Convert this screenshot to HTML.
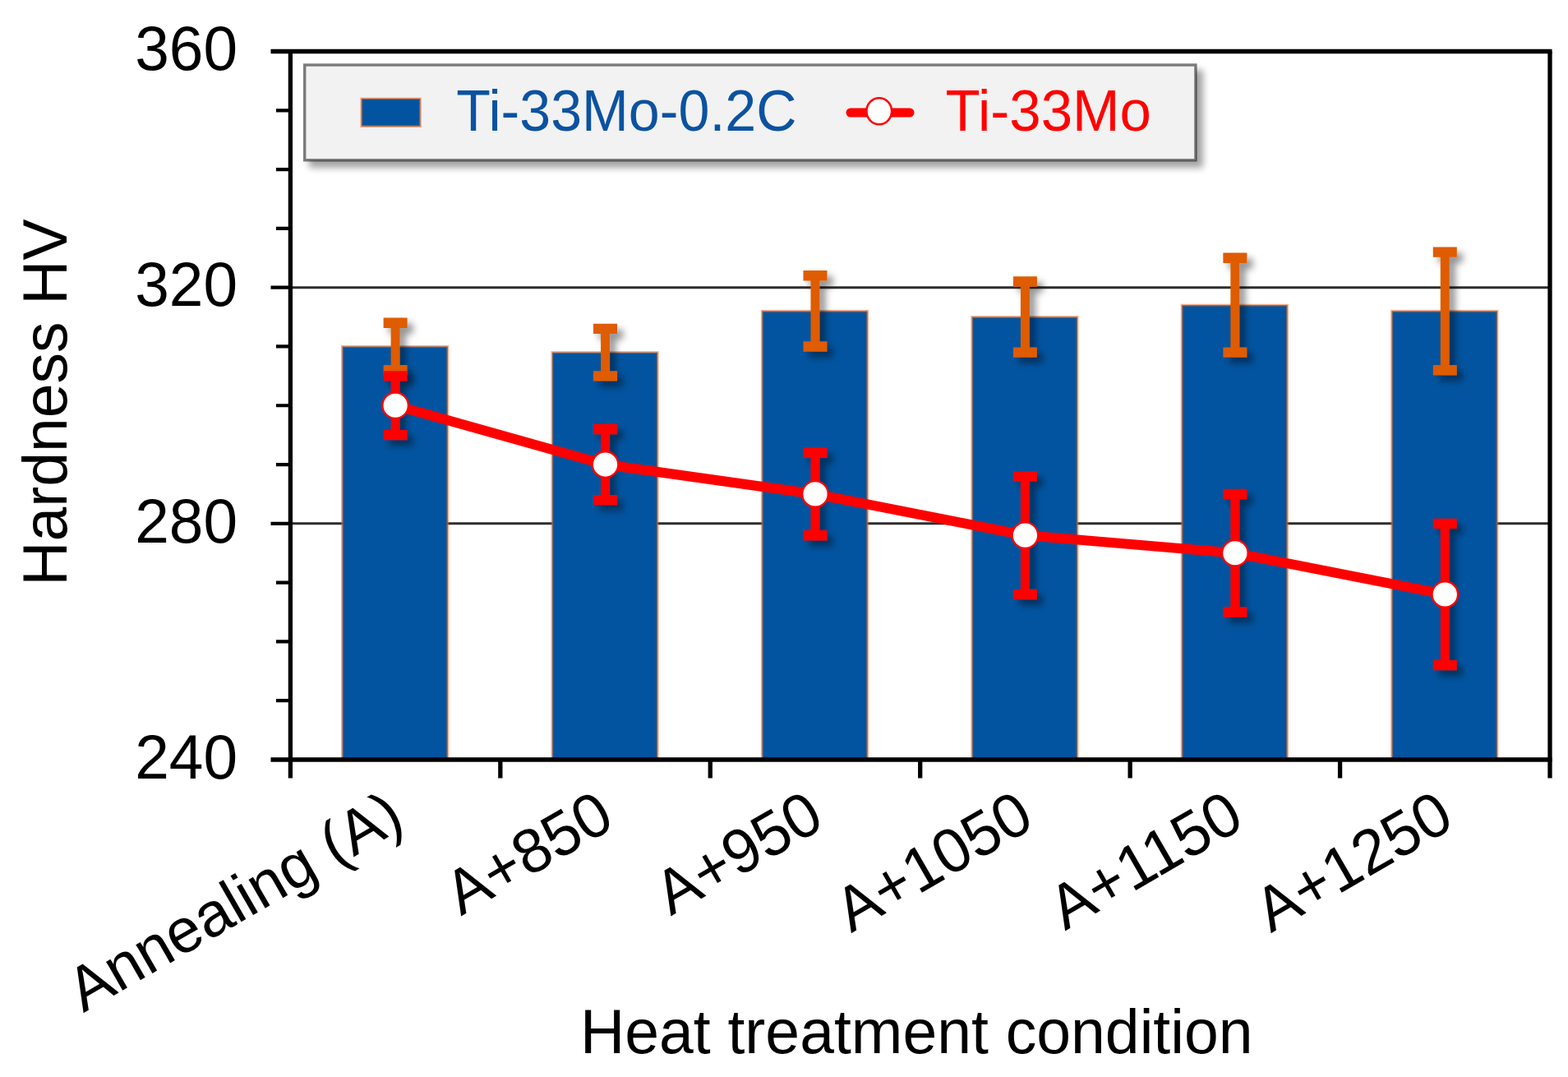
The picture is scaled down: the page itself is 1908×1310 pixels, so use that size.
<!DOCTYPE html><html><head><meta charset="utf-8"><title>Hardness HV chart</title><style>html,body{margin:0;padding:0;background:#fff;}svg{display:block;}text{font-family:"Liberation Sans",Arial,sans-serif;}</style></head><body>
<svg width="1908" height="1310" viewBox="0 0 1908 1310">
<defs><filter id="sh" x="-50%" y="-50%" width="200%" height="200%"><feDropShadow dx="7" dy="7" stdDeviation="4.5" flood-color="#000" flood-opacity="0.42"/></filter><filter id="blur45" x="-10%" y="-40%" width="120%" height="180%"><feGaussianBlur stdDeviation="4.5"/></filter></defs>
<rect width="1908" height="1310" fill="#fff"/>
<line x1="353.4" y1="349.67" x2="1886" y2="349.67" stroke="#2d2d2d" stroke-width="3"/>
<line x1="353.4" y1="636.83" x2="1886" y2="636.83" stroke="#2d2d2d" stroke-width="3"/>
<rect x="416.47" y="421.46" width="128.3" height="502.54" fill="#0254a0" stroke="#e8661e" stroke-opacity="0.5" stroke-width="3"/>
<rect x="671.9" y="428.64" width="128.3" height="495.36" fill="#0254a0" stroke="#e8661e" stroke-opacity="0.5" stroke-width="3"/>
<rect x="927.33" y="378.38" width="128.3" height="545.62" fill="#0254a0" stroke="#e8661e" stroke-opacity="0.5" stroke-width="3"/>
<rect x="1182.77" y="385.56" width="128.3" height="538.44" fill="#0254a0" stroke="#e8661e" stroke-opacity="0.5" stroke-width="3"/>
<rect x="1438.2" y="371.2" width="128.3" height="552.8" fill="#0254a0" stroke="#e8661e" stroke-opacity="0.5" stroke-width="3"/>
<rect x="1693.63" y="378.38" width="128.3" height="545.62" fill="#0254a0" stroke="#e8661e" stroke-opacity="0.5" stroke-width="3"/>
<g fill="none" stroke="#df5b00" stroke-width="11.0" filter="url(#sh)"><path d="M481.12 392.74V450.18"/><path stroke-width="12.4" d="M466.62 392.74H495.62M466.62 450.18H495.62"/><path d="M736.55 399.92V457.35"/><path stroke-width="12.4" d="M722.05 399.92H751.05M722.05 457.35H751.05"/><path d="M991.98 335.31V421.46"/><path stroke-width="12.4" d="M977.48 335.31H1006.48M977.48 421.46H1006.48"/><path d="M1247.42 342.49V428.64"/><path stroke-width="12.4" d="M1232.92 342.49H1261.92M1232.92 428.64H1261.92"/><path d="M1502.85 313.77V428.64"/><path stroke-width="12.4" d="M1488.35 313.77H1517.35M1488.35 428.64H1517.35"/><path d="M1758.28 306.59V450.18"/><path stroke-width="12.4" d="M1743.78 306.59H1772.78M1743.78 450.18H1772.78"/></g>
<g fill="none" stroke="#ff0000" stroke-width="11.0" filter="url(#sh)"><path d="M481.12 457.35V529.15"/><path stroke-width="12.4" d="M466.62 457.35H495.62M466.62 529.15H495.62"/><path d="M736.55 521.97V608.12"/><path stroke-width="12.4" d="M722.05 521.97H751.05M722.05 608.12H751.05"/><path d="M991.98 550.68V651.19"/><path stroke-width="12.4" d="M977.48 550.68H1006.48M977.48 651.19H1006.48"/><path d="M1247.42 579.4V722.98"/><path stroke-width="12.4" d="M1232.92 579.4H1261.92M1232.92 722.98H1261.92"/><path d="M1502.85 600.94V744.52"/><path stroke-width="12.4" d="M1488.35 600.94H1517.35M1488.35 744.52H1517.35"/><path d="M1758.28 636.83V809.13"/><path stroke-width="12.4" d="M1743.78 636.83H1772.78M1743.78 809.13H1772.78"/></g>
<polyline points="481.12,493.25 736.55,565.04 991.98,600.94 1247.42,651.19 1502.85,672.73 1758.28,722.98" fill="none" stroke="#ff0000" stroke-width="12" stroke-linejoin="round"/>
<circle cx="481.12" cy="493.25" r="15.8" fill="#fff" stroke="#ff0000" stroke-width="2.4"/>
<circle cx="736.55" cy="565.04" r="15.8" fill="#fff" stroke="#ff0000" stroke-width="2.4"/>
<circle cx="991.98" cy="600.94" r="15.8" fill="#fff" stroke="#ff0000" stroke-width="2.4"/>
<circle cx="1247.42" cy="651.19" r="15.8" fill="#fff" stroke="#ff0000" stroke-width="2.4"/>
<circle cx="1502.85" cy="672.73" r="15.8" fill="#fff" stroke="#ff0000" stroke-width="2.4"/>
<circle cx="1758.28" cy="722.98" r="15.8" fill="#fff" stroke="#ff0000" stroke-width="2.4"/>
<g stroke="#000" stroke-width="5.3" fill="none">
<path d="M353.4 60V946.5"/>
<path d="M329.5 924H1888.5"/>
<path d="M329.5 62.5H1888.5"/>
<path d="M1886 62.5V946.5"/>
<path d="M608.83 924V946.5"/>
<path d="M864.27 924V946.5"/>
<path d="M1119.7 924V946.5"/>
<path d="M1375.13 924V946.5"/>
<path d="M1630.57 924V946.5"/>
</g>
<path d="M329.5 349.67H353.4M329.5 636.83H353.4M336 134.29H353.4M336 206.08H353.4M336 277.88H353.4M336 421.46H353.4M336 493.25H353.4M336 565.04H353.4M336 708.62H353.4M336 780.42H353.4M336 852.21H353.4" stroke="#000" stroke-width="4.2" fill="none"/>
<text x="289" y="85.3" font-size="76" text-anchor="end" fill="#000" textLength="124.8" lengthAdjust="spacingAndGlyphs">360</text>
<text x="289" y="372.47" font-size="76" text-anchor="end" fill="#000" textLength="124.8" lengthAdjust="spacingAndGlyphs">320</text>
<text x="289" y="659.63" font-size="76" text-anchor="end" fill="#000" textLength="124.8" lengthAdjust="spacingAndGlyphs">280</text>
<text x="289" y="946.8" font-size="76" text-anchor="end" fill="#000" textLength="124.8" lengthAdjust="spacingAndGlyphs">240</text>
<text transform="translate(81,489.6) rotate(-90)" font-size="76" text-anchor="middle" fill="#000" textLength="446.4" lengthAdjust="spacingAndGlyphs">Hardness HV</text>
<text transform="translate(495.12,1005) rotate(-30)" font-size="76" text-anchor="end" fill="#000" textLength="454.5" lengthAdjust="spacingAndGlyphs">Annealing (A)</text>
<text transform="translate(750.55,1005) rotate(-30)" font-size="76" text-anchor="end" fill="#000" textLength="219.0" lengthAdjust="spacingAndGlyphs">A+850</text>
<text transform="translate(1005.98,1005) rotate(-30)" font-size="76" text-anchor="end" fill="#000" textLength="219.0" lengthAdjust="spacingAndGlyphs">A+950</text>
<text transform="translate(1261.42,1005) rotate(-30)" font-size="76" text-anchor="end" fill="#000" textLength="260.7" lengthAdjust="spacingAndGlyphs">A+1050</text>
<text transform="translate(1516.85,1005) rotate(-30)" font-size="76" text-anchor="end" fill="#000" textLength="255.1" lengthAdjust="spacingAndGlyphs">A+1150</text>
<text transform="translate(1772.28,1005) rotate(-30)" font-size="76" text-anchor="end" fill="#000" textLength="260.7" lengthAdjust="spacingAndGlyphs">A+1250</text>
<text x="1115.2" y="1281.1" font-size="76" text-anchor="middle" fill="#000" textLength="818.6" lengthAdjust="spacingAndGlyphs">Heat treatment condition</text>
<rect x="376" y="85" width="1088" height="119" fill="#000" opacity="0.36" filter="url(#blur45)"/>
<rect x="370.7" y="79" width="1084.2" height="115.8" fill="#f2f2f2"/>
<rect x="370.7" y="79" width="1084.2" height="115.8" fill="none" stroke="#000" stroke-opacity="0.5" stroke-width="3.4"/>
<rect x="439.8" y="120" width="71.6" height="33.6" fill="#0254a0" stroke="#e8661e" stroke-opacity="0.6" stroke-width="2.6"/>
<text x="555.3" y="159" font-size="70" fill="#0b52a0" textLength="414.2" lengthAdjust="spacingAndGlyphs">Ti-33Mo-0.2C</text>
<path d="M1035 137H1107" stroke="#ff0000" stroke-width="11" stroke-linecap="round"/>
<ellipse cx="1069.75" cy="135.3" rx="15.3" ry="16" fill="#fff" stroke="#ff0000" stroke-width="2.5"/>
<text x="1150.4" y="159" font-size="70" fill="#ff0000" textLength="250.5" lengthAdjust="spacingAndGlyphs">Ti-33Mo</text>
</svg></body></html>
